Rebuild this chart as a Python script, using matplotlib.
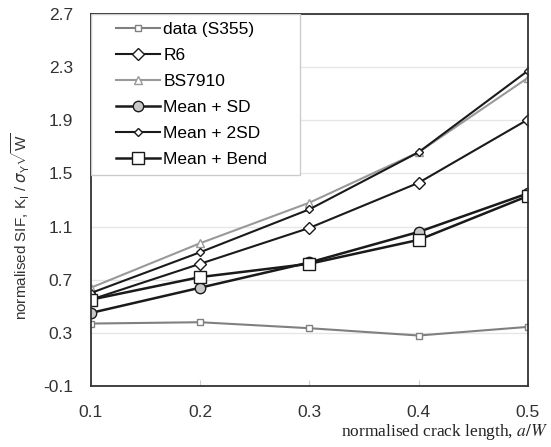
import numpy as np
import matplotlib.pyplot as plt
from matplotlib.patches import Rectangle

crack = [0.1, 0.2, 0.3, 0.4, 0.5]
data_s355 = [0.37, 0.38, 0.335, 0.28, 0.345]
r6 = [0.55, 0.82, 1.09, 1.43, 1.906]
bs7910 = [0.64, 0.975, 1.28, 1.66, 2.22]
mean_sd = [0.45, 0.64, 0.83, 1.06, 1.35]
mean_2sd = [0.60, 0.907, 1.23, 1.66, 2.273]
mean_bend = [0.55, 0.72, 0.82, 1.00, 1.33]
yticks = [-0.1, 0.3, 0.7, 1.1, 1.5, 1.9, 2.3, 2.7]

plt.rcParams['font.family'] = ['Liberation Sans', 'DejaVu Sans']
plt.rcParams['mathtext.fontset'] = 'custom'
plt.rcParams['mathtext.rm'] = 'Liberation Sans'

fig = plt.figure(figsize=(5.51, 4.47), dpi=100)
ax = fig.add_axes([0.165, 0.1365, 0.793, 0.832])

ax.plot(crack, data_s355, color='#808080', lw=1.5, marker='s', ms=5,
        mfc='white', mec='#808080', label='data (S355)')
ax.plot(crack, r6, color='#1a1a1a', lw=1.5, marker='D', ms=6,
        mfc='white', mec='#1a1a1a', label='R6')
ax.plot(crack, bs7910, color='#999999', lw=1.5, marker='^', ms=6,
        mfc='white', mec='#999999', label='BS7910')
ax.plot(crack, mean_sd, color='#1a1a1a', lw=1.8, marker='o', ms=7.5,
        mfc='#c8c8c8', mec='#1a1a1a', label='Mean + SD')
ax.plot(crack, mean_2sd, color='#1a1a1a', lw=1.5, marker='D', ms=4.5,
        mfc='white', mec='#1a1a1a', label='Mean + 2SD')
ax.plot(crack, mean_bend, color='#1a1a1a', lw=1.8, marker='s', ms=8,
        mfc='white', mec='#1a1a1a', label='Mean + Bend')

ax.set_xlim(0.1, 0.5)
ax.set_ylim(-0.1, 2.7)
ax.set_xticks(crack)
ax.set_yticks(yticks)
ax.set_xticklabels([f'{v:.1f}' for v in crack])
ax.set_yticklabels([f'{v:.1f}' for v in yticks])
ax.grid(axis='y', color='#e6e6e6', lw=1)
ax.set_axisbelow(True)
ax.tick_params(axis='both', direction='in', length=4, color='#cccccc',
               labelsize=12.5, labelcolor='#333333')
ax.tick_params(axis='x', pad=14)
ax.tick_params(axis='y', length=0, pad=13)
for s in ax.spines.values():
    s.set_color('#333333')
    s.set_linewidth(1.3)

ax.set_ylabel(r'normalised SIF, K$_{\rm I}$ / $\sigma_{\rm Y}\sqrt{\rm W}$',
              fontsize=11, color='#333333')
ax.yaxis.set_label_coords(-0.135, 0.43)
fig.text(0.995, 0.012, 'normalised crack length, $a/W$', ha='right', va='bottom',
         fontsize=12.5, family='Liberation Serif', color='#222222',
         math_fontfamily='stix')

# legend frame drawn separately (wide left margin in the original)
ax.add_patch(Rectangle((0, 0.567), 0.478, 0.433, transform=ax.transAxes,
                       facecolor='white', edgecolor='#cccccc', lw=1, zorder=4))
leg = ax.legend(loc='upper left', bbox_to_anchor=(0.058, 0.979), fontsize=12.5,
                frameon=False, handlelength=2.5, handletextpad=0.2,
                labelspacing=0.62, borderpad=0, borderaxespad=0)
leg.set_zorder(5)

fig.savefig('out.png', dpi=100)
